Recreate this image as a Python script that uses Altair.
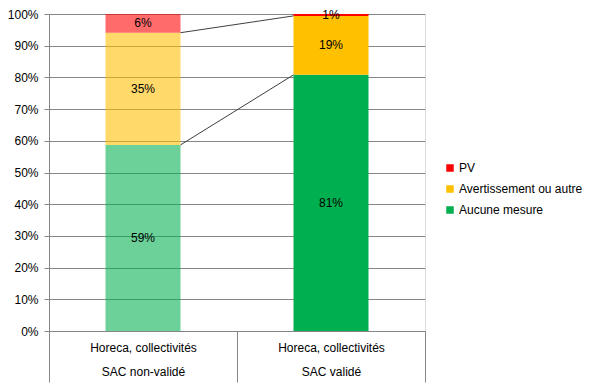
import altair as alt
import pandas as pd

categories = ["Horeca, collectivités|SAC non-validé", "Horeca, collectivités|SAC validé"]
series = ["PV", "Avertissement ou autre", "Aucune mesure"]
colors = ["#ff0000", "#ffc000", "#00b050"]
# values per series, in category order
aucune = [58.7, 80.8]
avert = [35.4, 18.6]
pv = [5.9, 0.6]
y_ticks = [0, 10, 20, 30, 40, 50, 60, 70, 80, 90, 100]

rows = []
for i, c in enumerate(categories):
    for s, v, r in [("Aucune mesure", aucune[i], 0), ("Avertissement ou autre", avert[i], 1), ("PV", pv[i], 2)]:
        rows.append({"cat": c, "series": s, "value": v, "rank": r})
df = pd.DataFrame(rows)

conn = pd.DataFrame({
    "xa": [categories[0]] * 2,
    "xb": [categories[1]] * 2,
    "ya": [aucune[0], aucune[0] + avert[0]],
    "yb": [aucune[1], aucune[1] + avert[1]],
})

FONT = "Liberation Sans"

xscale = alt.Scale(domain=categories, paddingInner=0, paddingOuter=0)
yscale = alt.Scale(domain=[0, 100], nice=False)

x_axis = alt.Axis(
    title=None, labelAngle=0, domain=True, domainColor="#868686",
    ticks=True, tickBand="extent", tickSize=51, tickColor="#868686",
    labelPadding=-40, labelExpr="split(datum.label, '|')",
    labelLineHeight=24, labelFontSize=12, labelFont=FONT, labelColor="#000000",
    labelBaseline="top",
)
y_axis = alt.Axis(
    title=None, values=y_ticks, tickCount=11, labelExpr="datum.value + '%'",
    labelOverlap=False, labelFlush=False,
    grid=True, gridColor="#868686", domainColor="#868686", tickColor="#868686",
    tickSize=5, labelPadding=6, labelFontSize=12, labelFont=FONT, labelColor="#000000",
)

base = alt.Chart(df)

bars = base.mark_bar(size=75).encode(
    x=alt.X("cat:N", scale=xscale, axis=x_axis, sort=categories),
    y=alt.Y("value:Q", stack="zero", scale=yscale, axis=y_axis),
    color=alt.Color(
        "series:N",
        scale=alt.Scale(domain=series, range=colors),
        legend=alt.Legend(
            title=None, orient="none", legendX=395, legendY=148,
            symbolType="square", symbolSize=56, symbolStrokeWidth=0,
            labelFont=FONT, labelFontSize=12, labelColor="#000000",
            rowPadding=9, labelOffset=3, padding=0,
        ),
    ),
    opacity=alt.Opacity("cat:N", scale=alt.Scale(domain=categories, range=[0.58, 1.0]), legend=None),
    order=alt.Order("rank:Q", sort="ascending"),
)

labels = base.transform_stack(
    stack="value", groupby=["cat"], as_=["y0", "y1"], sort=[alt.SortField("rank", order="ascending")]
).transform_calculate(
    mid="(datum.y0 + datum.y1) / 2",
    txt="format(datum.value, '.0f') + '%'",
).mark_text(font=FONT, fontSize=12, color="#000000", baseline="middle").encode(
    x=alt.X("cat:N", scale=xscale, sort=categories, axis=x_axis),
    y=alt.Y("mid:Q", scale=yscale, axis=y_axis),
    text="txt:N",
)

lines = alt.Chart(conn).mark_rule(color="#404040", strokeWidth=1, xOffset=37.5, x2Offset=-37.5).encode(
    x=alt.X("xa:N", scale=xscale, axis=x_axis),
    x2="xb:N",
    y=alt.Y("ya:Q", scale=yscale, axis=y_axis),
    y2="yb:Q",
)

chart = alt.layer(bars, lines, labels).properties(
    width=376, height=317,
    autosize=alt.AutoSizeParams(type="none"),
    padding={"left": 41, "top": 6, "right": 167, "bottom": 53},
).configure_view(stroke=None).configure(background="white")

chart.save("out.html", embed_options={"renderer": "svg", "actions": False})
